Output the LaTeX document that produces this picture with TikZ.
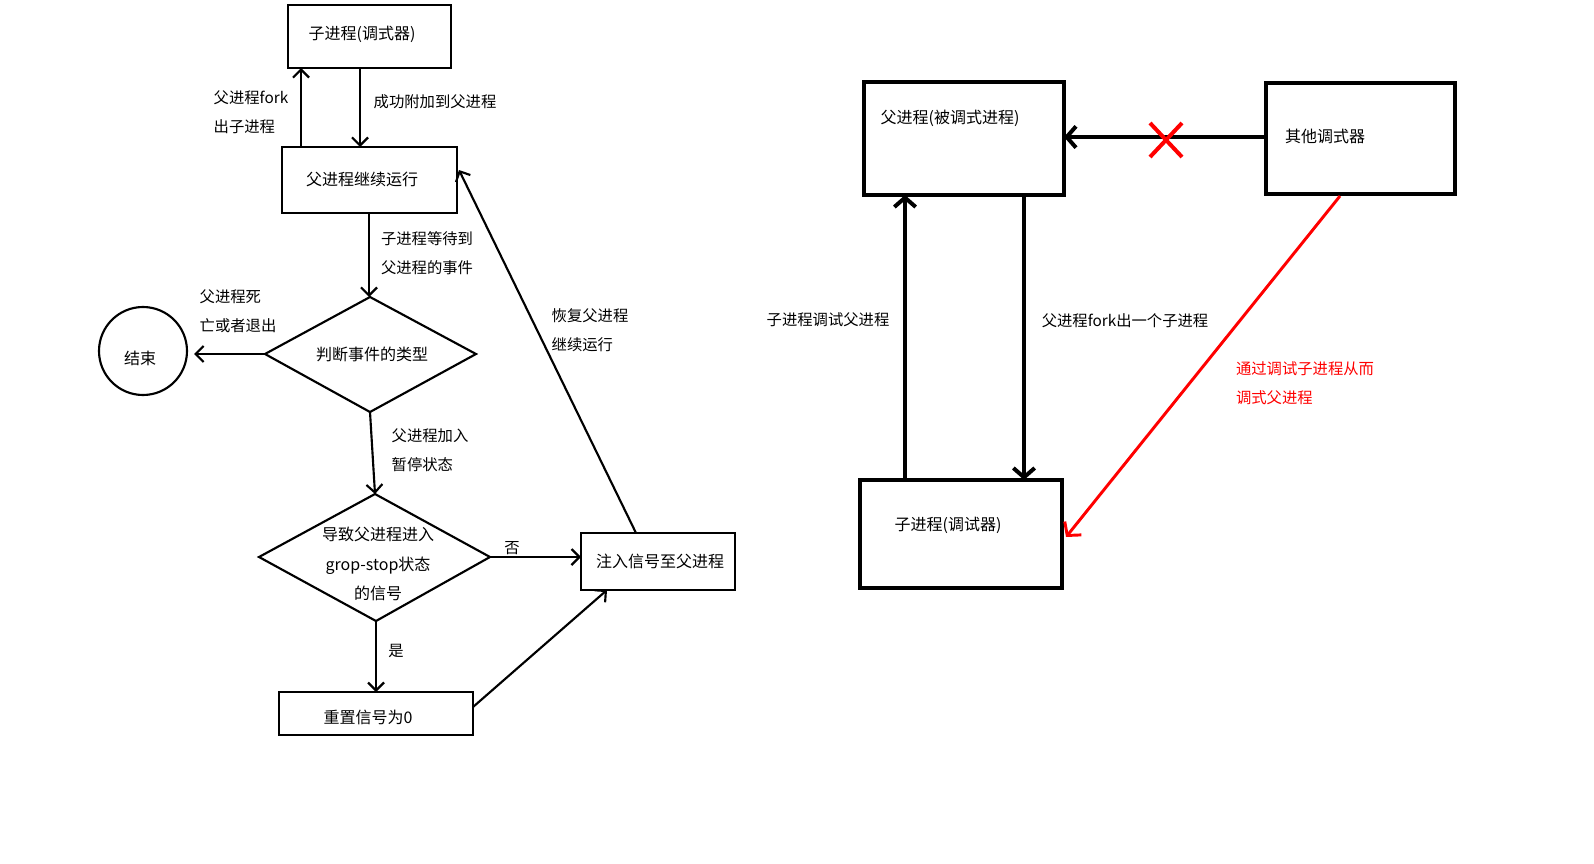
\documentclass[tikz,border=0pt]{standalone}
\usepackage{fontspec}
\setmainfont{Noto Sans CJK SC}
\usetikzlibrary{arrows.meta}
\begin{document}
\begin{tikzpicture}[x=0.75pt,y=-0.75pt,
  box/.style={draw,line width=1.6pt},
  bbox/.style={draw,line width=3pt},
  arr/.style={line width=1.6pt,-{Straight Barb[length=6pt,width=12pt]}},
  barr/.style={line width=3pt,-{Straight Barb[length=7pt,width=16pt]}},
  lbl/.style={font=\fontsize{11.5}{22}\selectfont,align=left},
  txt/.style={font=\fontsize{12}{22}\selectfont,align=center}]
\useasboundingbox (0,0) rectangle (1594,863);
% left flow
\draw[box] (288,5) rectangle (451,68);
\node[txt] (c) at (362,34) {子进程(调式器)};
\coordinate (cbl) at (301,68); \coordinate (cbr) at (360,68);
\draw[box] (282,147) rectangle (457,213);
\node[txt] (p) at (362,179) {父进程继续运行};
\coordinate (ptl) at (301,147); \coordinate (ptr) at (360,147);
\coordinate (pb) at (369,213); \coordinate (pr) at (459,170);
\draw[arr] (ptl) -- (cbl);
\draw[arr] (cbr) -- (ptr);
\node[lbl] at (251,112) {父进程fork\\出子进程};
\node[lbl] at (435,102) {成功附加到父进程};
\draw[box] (370,297) -- (476,354) -- (370,412) -- (265,354) -- cycle;
\node[txt] (d1) at (372,354) {判断事件的类型};
\coordinate (d1t) at (369,297); \coordinate (d1l) at (265,354); \coordinate (d1b) at (370,412);
\draw[arr] (pb) -- (d1t);
\node[lbl] at (427,253) {子进程等待到\\父进程的事件};
\draw[line width=1.6pt] (143,351) circle (44);
\node[txt] (end) at (140,358) {结束};
\coordinate (endr) at (194,354);
\draw[arr] (d1l) -- (endr);
\node[lbl] at (238,311) {父进程死\\亡或者退出};
\draw[box] (375,494) -- (490,557) -- (376,621) -- (259,557) -- cycle;
\node[txt] (d2) at (378,564) {导致父进程进入\\grop-stop状态\\的信号};
\coordinate (d2t) at (375,494); \coordinate (d2r) at (490,557); \coordinate (d2b) at (376,621);
\draw[arr] (d1b) -- (d2t);
\node[lbl] at (430,450) {父进程加入\\暂停状态};
\draw[box] (581,533) rectangle (735,590);
\node[txt] (inj) at (660,561) {注入信号至父进程};
\coordinate (injl) at (581,557); \coordinate (injb) at (607,590); \coordinate (injt) at (636,533);
\draw[arr] (d2r) -- (injl);
\node[lbl] at (512,548) {否};
\draw[box] (279,692) rectangle (473,735);
\node[txt] (rs) at (368,717) {重置信号为0};
\coordinate (rst) at (376,692); \coordinate (rsr) at (473,707);
\draw[arr] (d2b) -- (rst);
\node[lbl] at (396,651) {是};
\draw[arr] (rsr) -- (injb);
\draw[arr] (injt) -- (pr);
\node[lbl] at (590,330) {恢复父进程\\继续运行};
% right
\draw[bbox] (864,82) rectangle (1064,195);
\node[txt] (fp) at (950,118) {父进程(被调式进程)};
\draw[bbox] (1266,83) rectangle (1455,194);
\node[txt] (od) at (1325,136) {其他调式器};
\draw[bbox] (860,480) rectangle (1062,588);
\node[txt] (cd) at (948,525) {子进程(调试器)};
\coordinate (odl) at (1266,137); \coordinate (fpr) at (1064,137);
\draw[barr] (odl) -- (fpr);
\draw[red,line width=3pt] (1150,123) -- (1182,157) (1150,157) -- (1182,123);
\coordinate (cdt1) at (905,480); \coordinate (fpb1) at (905,195);
\coordinate (fpb2) at (1024,195); \coordinate (cdt2) at (1024,480);
\draw[barr] (cdt1) -- (fpb1);
\draw[barr] (fpb2) -- (cdt2);
\node[lbl] at (828,320) {子进程调试父进程};
\node[lbl] at (1125,321) {父进程fork出一个子进程};
\coordinate (odb) at (1340,196); \coordinate (cdr) at (1066,537);
\draw[red,line width=2.2pt,-{Straight Barb[length=7pt,width=16pt]}] (odb) -- (cdr);
\node[lbl,red] at (1305,383) {通过调试子进程从而\\调式父进程};
\end{tikzpicture}
\end{document}
